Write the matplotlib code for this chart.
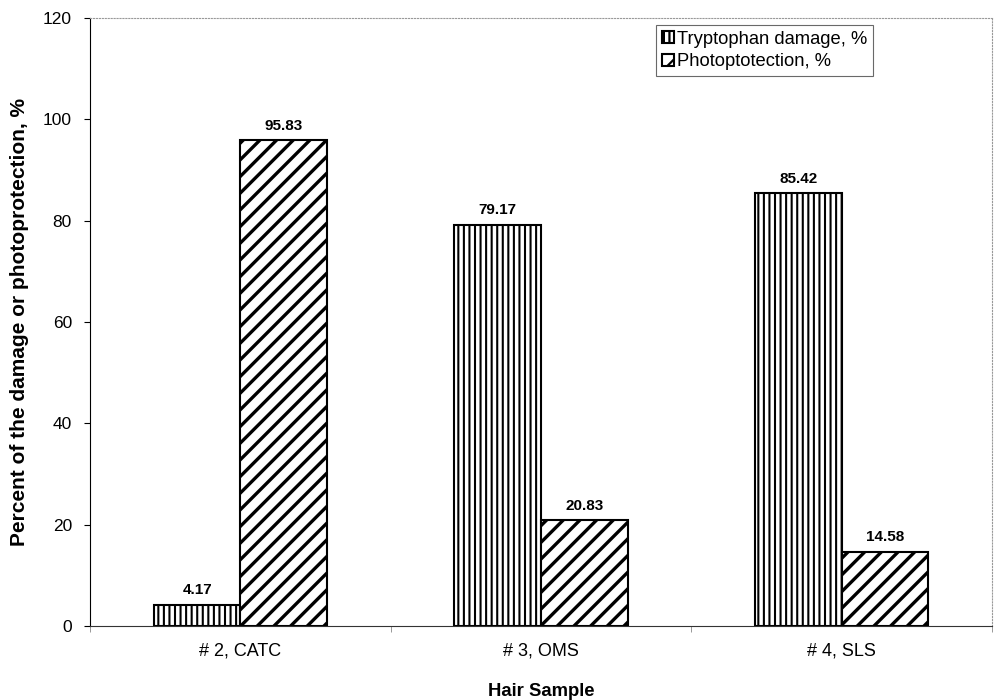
import matplotlib
matplotlib.use("Agg")
import matplotlib.pyplot as plt
import numpy as np

categories = ["# 2, CATC", "# 3, OMS", "# 4, SLS"]
tryptophan = [4.17, 79.17, 85.42]
photoprotection = [95.83, 20.83, 14.58]
series_names = ["Tryptophan damage, %", "Photoptotection, %"]
yticks = [0, 20, 40, 60, 80, 100, 120]

plt.rcParams['font.family'] = ['Liberation Sans', 'DejaVu Sans']
plt.rcParams['hatch.linewidth'] = 1.6

fig = plt.figure(figsize=(9.96, 7.0), dpi=100)
ax = fig.add_axes([0.0904, 0.1057, 0.9056, 0.8686])

x = np.arange(len(categories))
w = 0.288
b1 = ax.bar(x - w/2, tryptophan, w, facecolor='white', edgecolor='black',
            hatch='|||', linewidth=1.5, label=series_names[0])
b2 = ax.bar(x + w/2, photoprotection, w, facecolor='white', edgecolor='black',
            hatch='//', linewidth=1.5, label=series_names[1])
for bars in (b1, b2):
    for p in bars:
        try:
            p.set_hatch_linewidth(2.4 if bars is b2 else 1.5)
        except Exception:
            pass

for bars, vals in ((b1, tryptophan), (b2, photoprotection)):
    for p, v in zip(bars, vals):
        ax.annotate(f"{v:.2f}", (p.get_x() + p.get_width()/2, v),
                    xytext=(0, 5.5), textcoords='offset points',
                    ha='center', va='bottom', fontsize=11, fontweight='bold')

ax.set_xlim(-0.5, len(categories) - 0.5)
ax.set_ylim(0, 120)
ax.set_yticks(yticks)
ax.set_yticklabels([str(t) for t in yticks], fontsize=12.5)
ax.set_xticks(x)
ax.set_xticklabels(categories, fontsize=13)
ax.tick_params(axis='x', which='major', length=0, pad=12)
ax.set_xticks(np.arange(-0.5, len(categories), 1.0), minor=True)
ax.tick_params(axis='x', which='minor', length=4, width=0.6, color='#888888')
ax.tick_params(axis='y', length=4, width=0.8, pad=9)

for s in ('top', 'right'):
    ax.spines[s].set_color('#999999')
    ax.spines[s].set_linestyle(':')
    ax.spines[s].set_linewidth(0.8)
ax.spines['left'].set_linewidth(0.8)
ax.spines['bottom'].set_linewidth(0.8)
ax.spines['bottom'].set_color('#333333')

ax.set_ylabel("Percent of the damage or photoprotection, %", fontsize=15,
              fontweight='bold', labelpad=10)
ax.set_xlabel("Hair Sample", fontsize=13.3, fontweight='bold', labelpad=17)

leg = ax.legend(loc='upper right', bbox_to_anchor=(0.868, 0.988), fontsize=13.2,
                frameon=True, fancybox=False, edgecolor='#444444',
                handlelength=0.65, handleheight=0.65, handletextpad=0.2,
                borderpad=0.3, labelspacing=0.3, borderaxespad=0)
leg.get_frame().set_linewidth(0.8)

fig.savefig("out.png", dpi=100)
